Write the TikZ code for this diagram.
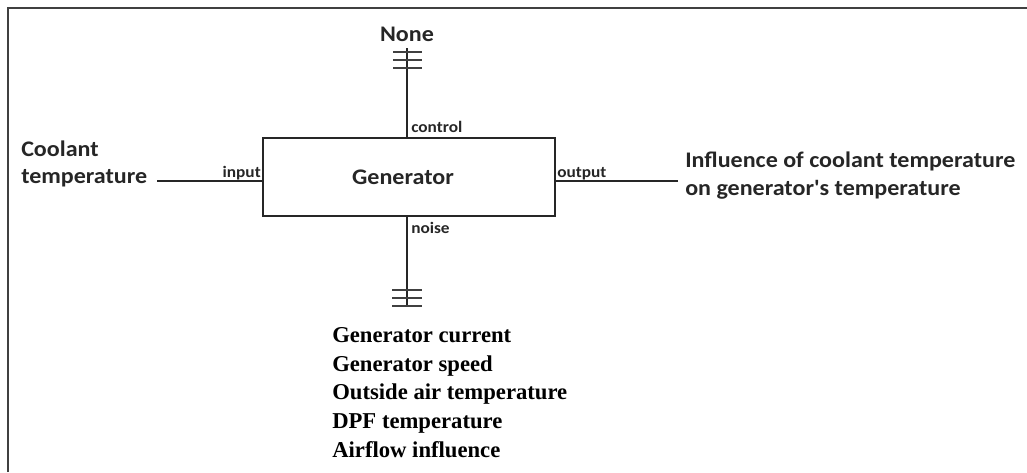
\documentclass[tikz,border=0pt]{standalone}
\usepackage{fontspec}
\setmainfont{Carlito}
\newfontfamily\calb[FakeStretch=1.08]{Carlito}
\newfontfamily\timesb{Liberation Serif}
\tikzset{x=0.75pt,y=-0.75pt}
\begin{document}
\begin{tikzpicture}[
  line/.style={draw=black!85, line width=1.3pt},
  frame/.style={draw=black!75, line width=1.6pt},
  big/.style={font=\calb\bfseries\fontsize{16.7}{20}\selectfont, text=black!85, inner sep=0pt},
  small/.style={font=\calb\bfseries\fontsize{12}{14}\selectfont, text=black!85, inner sep=0pt},
  list/.style={font=\timesb\bfseries\fontsize{17}{21.4}\selectfont, align=left, inner sep=0pt},
  tick/.style={draw=black!75, line width=1.4pt}
]
\useasboundingbox (0,0) rectangle (1027,472);
\draw[frame] (8,472) -- (8,8) -- (1027,8);

\node[draw=black!85, line width=1.2pt, minimum width=219pt, minimum height=58.5pt, inner sep=0pt] (gen) at (409,177) {};
\node[big] (gentxt) at (403,177) {Generator};

% control
\coordinate (ctop) at (407,48);
\draw[line] (ctop) -- (ctop |- gen.north);
\foreach \yy in {52,60,68} \draw[tick] (393,\yy) -- (422,\yy);
\node[big, anchor=base] (none) at (407,41) {None};
\node[small, anchor=base west] (control) at (411,132) {control};

% noise
\coordinate (nbot) at (407,306);
\draw[line] (nbot) -- (nbot |- gen.south);
\foreach \yy in {290,298,306} \draw[tick] (392,\yy) -- (422,\yy);
\node[small, anchor=base west] (noise) at (411,233) {noise};

% input
\coordinate (inEnd) at (157,181);
\draw[line] (inEnd) -- (inEnd -| gen.west);
\node[small, anchor=base east] (input) at (261,177) {input};
\node[big, anchor=base west, align=left] (cool) at (21,183) {Coolant\\temperature};

% output
\coordinate (outEnd) at (678,181);
\draw[line] (outEnd) -- (outEnd -| gen.east);
\node[small, anchor=base west] (output) at (557,177) {output};
\node[big, anchor=base west, align=left] (infl) at (685,195) {Influence of coolant temperature\\[1pt]on generator's temperature};

% noise list
\node[list, anchor=base west] (lst) at (332,457) {Generator current\\Generator speed\\Outside air temperature\\DPF temperature\\Airflow influence};
\end{tikzpicture}
\end{document}
